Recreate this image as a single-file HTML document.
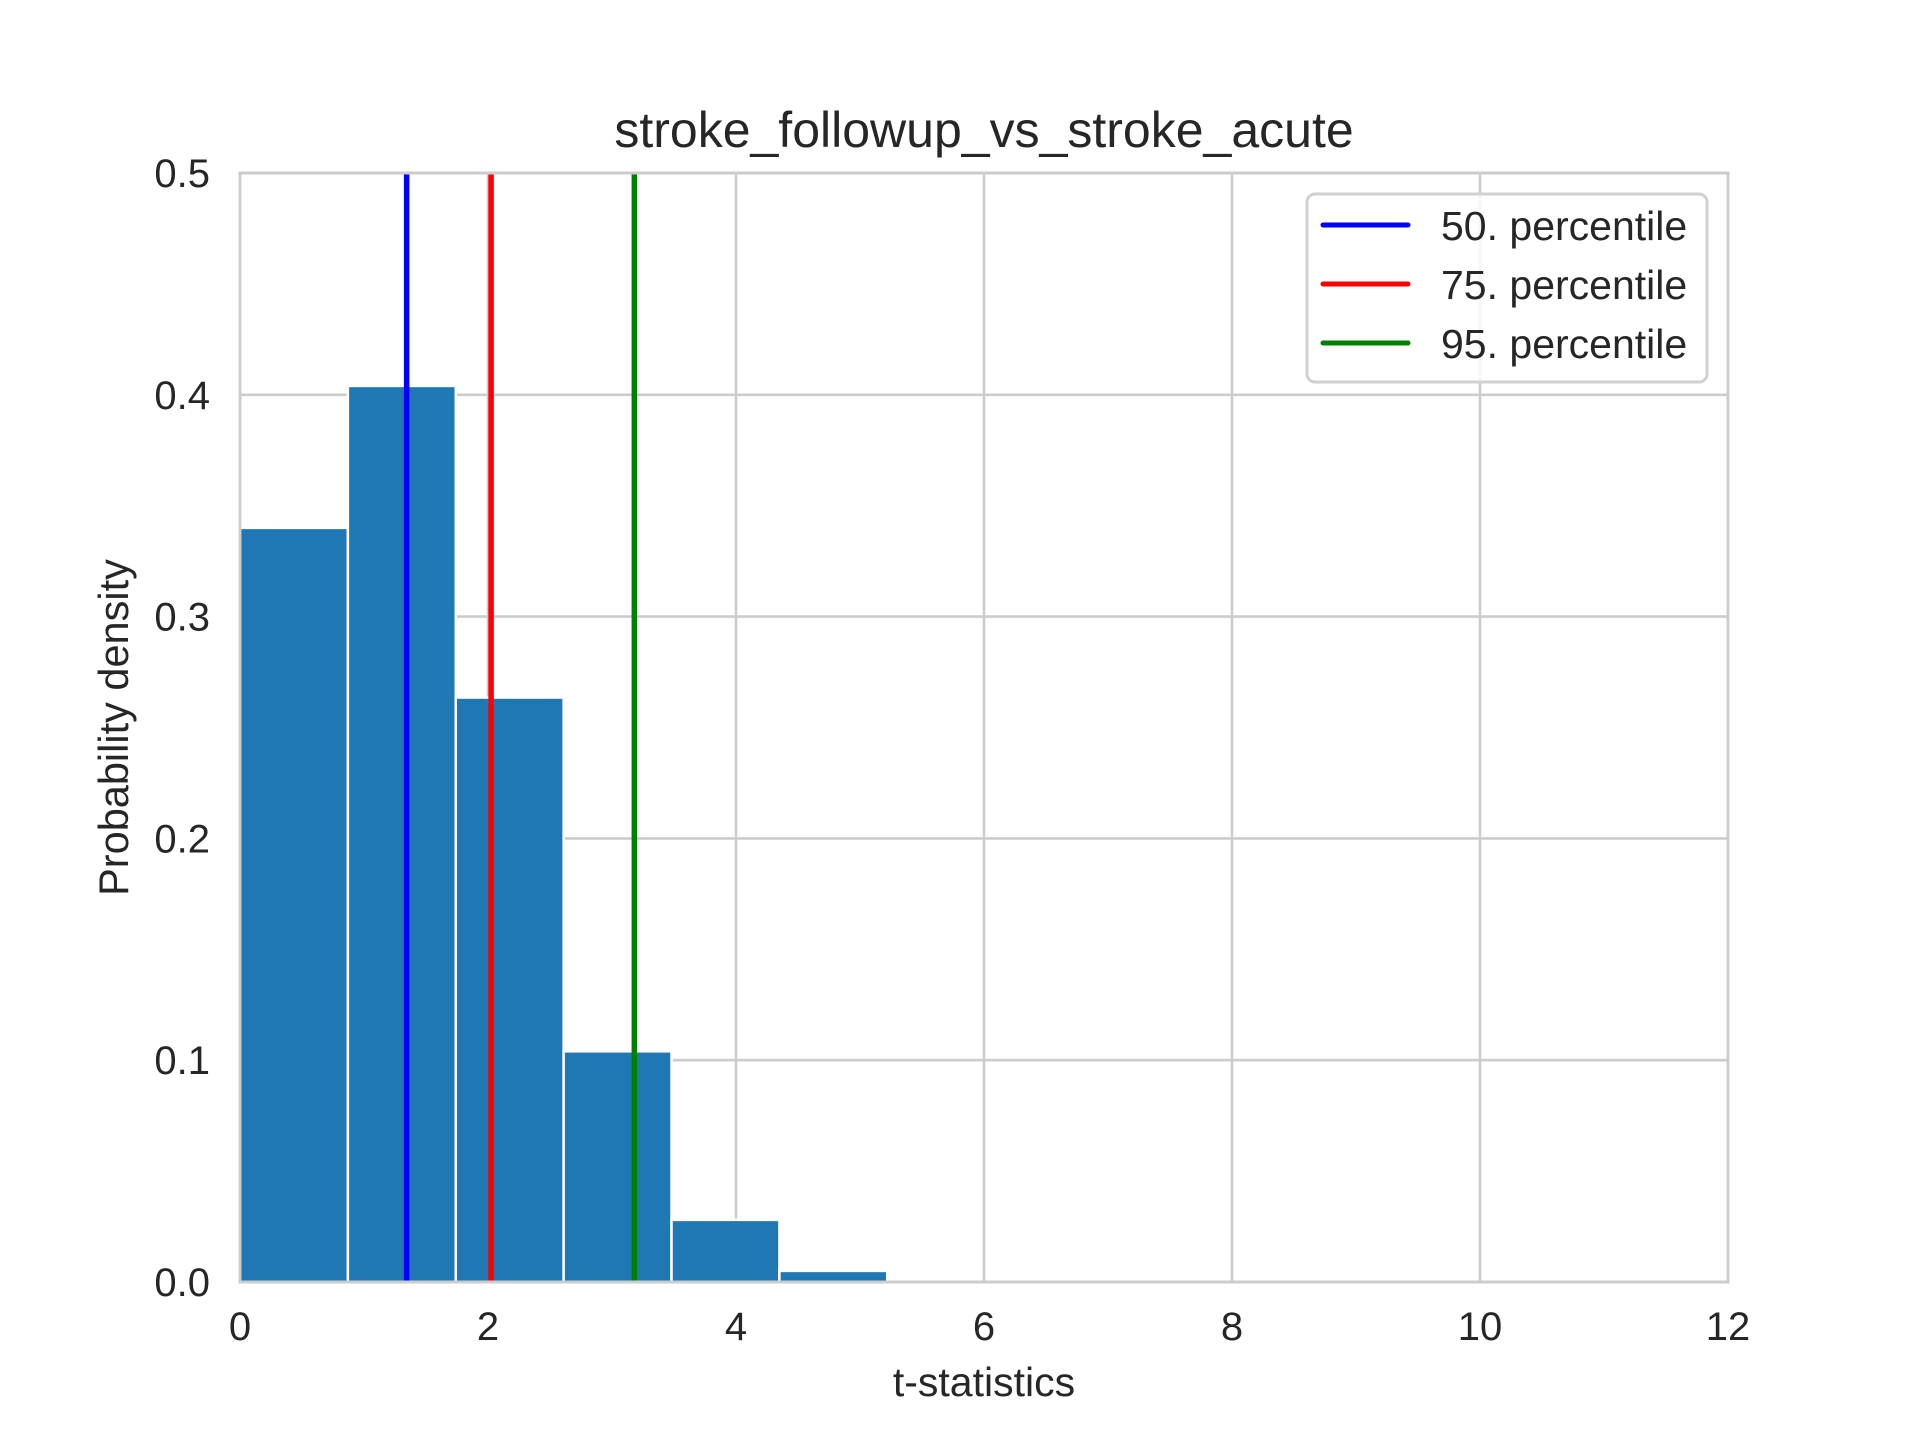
<!DOCTYPE html>
<html><head><meta charset="utf-8"><style>
html,body{margin:0;padding:0;background:#fff;}
svg{display:block;font-family:"Liberation Sans",Arial,sans-serif;}
</style></head><body>
<svg id="chart" width="1920" height="1440" viewBox="0 0 1920 1440" xmlns="http://www.w3.org/2000/svg"></svg>
<script>
const binEdges = [0, 0.87, 1.74, 2.61, 3.48, 4.35, 5.22];
const densities = [0.340, 0.404, 0.2635, 0.104, 0.028, 0.005];
const percentileNames = ["50. percentile", "75. percentile", "95. percentile"];
const percentileValues = [1.344, 2.025, 3.18];
const percentileColors = ["#0000ff", "#ff0000", "#008000"];
const xTicks = [0, 2, 4, 6, 8, 10, 12];
const yTicks = [0.0, 0.1, 0.2, 0.3, 0.4, 0.5];
const yTickLabels = ["0.0", "0.1", "0.2", "0.3", "0.4", "0.5"];

const L = 240, R = 1728, T = 173, B = 1282;
const xs = v => L + (v - 0) / 12 * (R - L);
const ys = v => B - v / 0.5 * (B - T);
const NS = "http://www.w3.org/2000/svg";
const svg = document.getElementById('chart');
function mk(tag, attrs, parent) {
  const e = document.createElementNS(NS, tag);
  for (const k in attrs) e.setAttribute(k, attrs[k]);
  (parent || svg).appendChild(e);
  return e;
}
mk('rect', {x: L, y: T, width: R - L, height: B - T, fill: '#fff'});
const grid = mk('g', {});


xTicks.forEach(t => {
  const l = mk('line', {x1: xs(t), x2: xs(t), y1: T, y2: B, stroke: '#cccccc', 'stroke-width': 2.6}, grid);
  
  
});
yTicks.forEach(t => {
  const l = mk('line', {x1: L, x2: R, y1: ys(t), y2: ys(t), stroke: '#cccccc', 'stroke-width': 2.6}, grid);
  
  
});
const bars = mk('g', {});


densities.forEach((d, i) => {
  const x0 = xs(binEdges[i]), x1 = xs(binEdges[i + 1]);
  const r = mk('rect', {x: x0, y: ys(d), width: x1 - x0, height: ys(0) - ys(d), fill: '#1f77b4', stroke: '#ffffff', 'stroke-width': 2.5}, bars);
  
  
});
percentileValues.forEach((v, i) => {
  const l = mk('line', {x1: xs(v), x2: xs(v), y1: T, y2: B, stroke: percentileColors[i], 'stroke-width': 5.5});
  
  
});
const spine = mk('rect', {x: L, y: T, width: R - L, height: B - T, fill: 'none', stroke: '#cccccc', 'stroke-width': 3});


xTicks.forEach(t => {
  const tx = mk('text', {x: xs(t), y: B + 58, 'text-anchor': 'middle', 'font-size': 40, fill: '#262626'});
  tx.textContent = t;
  
  
});
yTicks.forEach((t, i) => {
  const tx = mk('text', {x: L - 30, y: ys(t) + 14, 'text-anchor': 'end', 'font-size': 40, fill: '#262626'});
  tx.textContent = yTickLabels[i];
  
  
});
const title = mk('text', {x: (L + R) / 2, y: 147, 'text-anchor': 'middle', 'font-size': 50, fill: '#262626'});
title.textContent = 'stroke_followup_vs_stroke_acute';


const xt = mk('text', {x: (L + R) / 2, y: 1396, 'text-anchor': 'middle', 'font-size': 41, fill: '#262626'});
xt.textContent = 't-statistics';


const yt = mk('text', {x: 0, y: 0, 'text-anchor': 'middle', 'font-size': 41.5, fill: '#262626', transform: 'translate(128,' + (T + B) / 2 + ') rotate(-90)'});
yt.textContent = 'Probability density';


const lg = mk('g', {});


mk('rect', {x: 1307, y: 194, width: 400, height: 188, rx: 8, fill: 'rgba(255,255,255,0.8)', stroke: '#d0d0d0', 'stroke-width': 3}, lg);
percentileNames.forEach((n, i) => {
  const y = 225 + i * 59;
  const e = mk('g', {}, lg);
  
  
  mk('line', {x1: 1323, x2: 1408, y1: y, y2: y, stroke: percentileColors[i], 'stroke-width': 5, 'stroke-linecap': 'round'}, e);
  const tx = mk('text', {x: 1441, y: y + 15, 'font-size': 41, fill: '#262626'}, e);
  tx.textContent = n;
});
</script>
</body></html>
